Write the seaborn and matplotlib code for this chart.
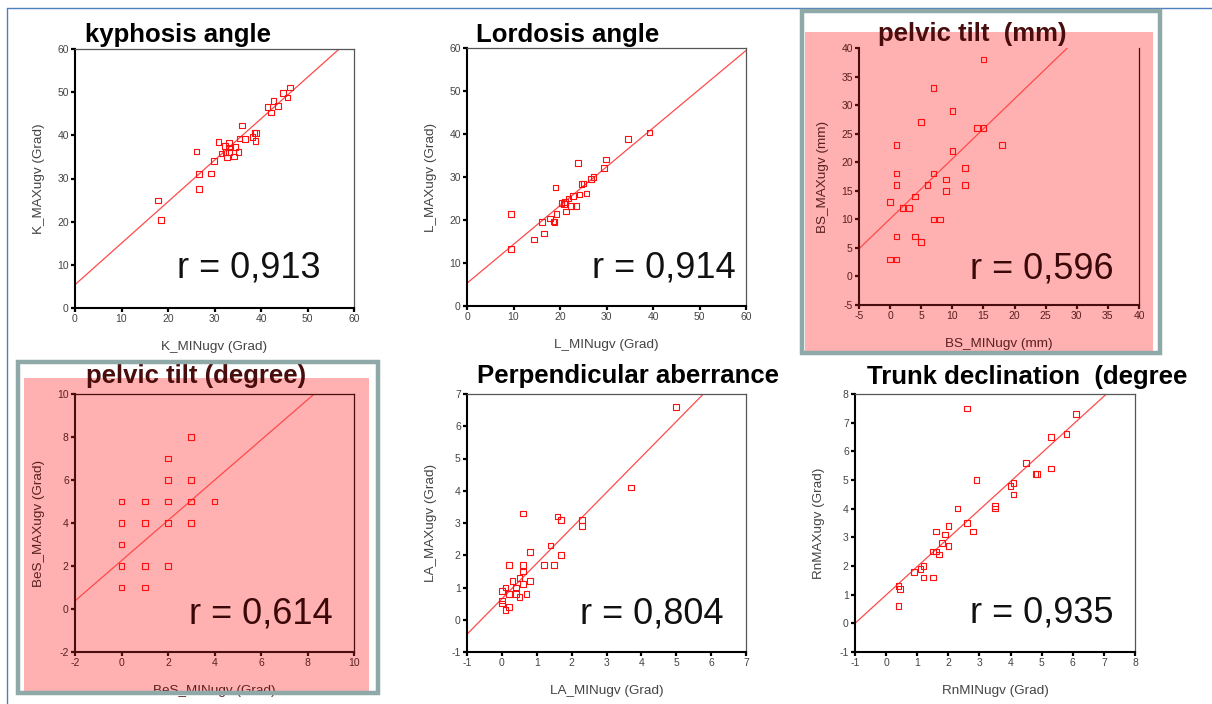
import matplotlib
matplotlib.use("Agg")
import numpy as np
import pandas as pd
import seaborn as sns
import matplotlib.pyplot as plt
from matplotlib.patches import Rectangle
from matplotlib.lines import Line2D

# ---------------- data ----------------
kyph_min = [17.8, 18.5, 26.1, 26.7, 26.7, 29.3, 29.9, 30.9, 31.5, 32.2, 32.4, 32.7, 33.1, 33.1,
            33.1, 34.2, 34.5, 35.2, 35.4, 35.9, 36.6, 38.2, 38.6, 38.8, 38.9, 41.4, 42.1, 42.7,
            43.7, 44.7, 45.7, 46.2]
kyph_max = [24.9, 20.4, 36.3, 31.1, 27.6, 31.2, 34.1, 38.5, 35.8, 37.5, 36.1, 34.9, 36.2, 38.2,
            37.2, 35.1, 37.3, 36.1, 39.3, 42.3, 39.2, 39.6, 40.6, 38.7, 40.6, 46.5, 45.3, 47.9,
            46.8, 49.8, 48.8, 51.1]

lord_min = [9.5, 9.5, 14.4, 16.1, 16.6, 17.8, 18.6, 18.8, 19.0, 19.2, 20.3, 20.9, 21.1, 21.3,
            21.8, 22.4, 22.8, 23.5, 23.9, 24.2, 24.6, 25.1, 25.7, 26.7, 27.2, 29.5, 29.9, 34.6, 39.2]
lord_max = [21.4, 13.3, 15.5, 19.5, 16.9, 20.3, 19.6, 19.5, 27.6, 21.4, 24.0, 23.7, 24.2, 22.0,
            25.0, 23.3, 25.6, 23.2, 33.3, 25.9, 28.4, 28.5, 26.2, 29.5, 30.0, 32.1, 34.1, 38.8, 40.3]

bs_min = [0, 0, 1, 1, 1, 1, 1, 2, 3, 4, 4, 5, 5, 6, 7, 7, 7, 8, 9, 9, 10, 10, 12, 12, 14, 15, 15, 18]
bs_max = [13, 3, 3, 23, 18, 16, 7, 12, 12, 14, 7, 27, 6, 16, 33, 18, 10, 10, 17, 15, 29, 22, 19, 16,
          26, 26, 38, 23]

bes_min = [0, 0, 0, 0, 0, 1, 1, 1, 1, 2, 2, 2, 2, 2, 3, 3, 3, 3, 4]
bes_max = [5, 4, 3, 2, 1, 5, 4, 2, 1, 7, 6, 5, 4, 2, 8, 6, 5, 4, 5]

la_min = [0.0, 0.0, 0.0, 0.1, 0.1, 0.2, 0.2, 0.2, 0.3, 0.4, 0.4, 0.5, 0.5, 0.6, 0.6, 0.6, 0.6,
          0.7, 0.8, 0.8, 1.2, 1.4, 1.5, 1.6, 1.7, 1.7, 2.3, 2.3, 3.7, 5.0]
la_max = [0.5, 0.6, 0.9, 1.0, 0.3, 0.8, 1.7, 0.4, 1.2, 1.0, 0.8, 1.3, 0.7, 1.7, 1.5, 1.1, 3.3,
          0.8, 1.2, 2.1, 1.7, 2.3, 1.7, 3.2, 3.1, 2.0, 3.1, 2.9, 4.1, 6.6]

rn_min = [0.4, 0.4, 0.45, 0.9, 1.1, 1.2, 1.2, 1.5, 1.5, 1.6, 1.6, 1.7, 1.8, 1.9, 2.0, 2.0, 2.3,
          2.6, 2.6, 2.8, 2.9, 3.5, 3.5, 4.0, 4.1, 4.1, 4.5, 4.8, 4.85, 5.3, 5.3, 5.8, 6.1]
rn_max = [0.6, 1.3, 1.2, 1.8, 1.9, 2.0, 1.6, 1.6, 2.5, 2.5, 3.2, 2.4, 2.8, 3.1, 2.7, 3.4, 4.0,
          7.5, 3.5, 3.2, 5.0, 4.1, 4.0, 4.8, 4.9, 4.5, 5.6, 5.2, 5.2, 6.5, 5.4, 6.6, 7.3]

# fitted lines (intercept, slope) as drawn in the picture
fit_lines = {"kyph": (5.4, 0.961), "lord": (5.3, 0.902), "bs": (10.1, 1.05),
             "bes": (2.25, 0.935), "la": (0.65, 1.099), "rn": (0.99, 0.99)}

titles = ["kyphosis angle", "Lordosis angle", "pelvic tilt  (mm)",
          "pelvic tilt (degree)", "Perpendicular aberrance", "Trunk declination  (degree"]
r_texts = ["r = 0,913", "r = 0,914", "r = 0,596", "r = 0,614", "r = 0,804", "r = 0,935"]
x_labels = ["K_MINugv (Grad)", "L_MINugv (Grad)", "BS_MINugv (mm)",
            "BeS_MINugv (Grad)", "LA_MINugv (Grad)", "RnMINugv (Grad)"]
y_labels = ["K_MAXugv (Grad)", "L_MAXugv (Grad)", "BS_MAXugv (mm)",
            "BeS_MAXugv (Grad)", "LA_MAXugv (Grad)", "RnMAXugv (Grad)"]
ticks_kyph = [0, 10, 20, 30, 40, 50, 60]
ticks_lord = [0, 10, 20, 30, 40, 50, 60]
ticks_bs = [-5, 0, 5, 10, 15, 20, 25, 30, 35, 40]
ticks_bes = [-2, 0, 2, 4, 6, 8, 10]
ticks_la = [-1, 0, 1, 2, 3, 4, 5, 6, 7]
ticks_rn = [-1, 0, 1, 2, 3, 4, 5, 6, 7, 8]

# ---------------- style ----------------
sns.set_style("white")
plt.rcParams["font.family"] = ["Liberation Sans", "DejaVu Sans"]

W, H = 1212, 704
fig = plt.figure(figsize=(W / 100, H / 100), dpi=100)
fig.patch.set_facecolor("white")

PINK = "#ffb0b0"
MAROON = "#4a0d0d"
FRAME = "#8fa8a8"
RED = "#ff1010"
LINE_RED = "#ff4a4a"


def fx(x):
    return x / W


def fy(y):
    return 1 - y / H


def rect_px(x0, y0, x1, y1, **kw):
    return Rectangle((fx(x0), fy(y1)), (x1 - x0) / W, (y1 - y0) / H,
                     transform=fig.transFigure, **kw)


# decorative page lines
fig.add_artist(Line2D([fx(7), fx(1212)], [fy(8), fy(8)], color="#4f7fc0", lw=1.0, zorder=-5))
fig.add_artist(Line2D([fx(7), fx(7)], [fy(8), fy(704)], color="#4f7fc0", lw=1.0, zorder=-5))

# pink highlighted panels
fig.add_artist(rect_px(805, 32, 1153, 352, facecolor=PINK, edgecolor="none", zorder=-3))
fig.add_artist(rect_px(24, 378, 369, 692, facecolor=PINK, edgecolor="none", zorder=-3))
fig.add_artist(rect_px(802, 11, 1160, 353, facecolor="none", edgecolor=FRAME, lw=3.2, zorder=10))
fig.add_artist(rect_px(18, 362, 378, 693, facecolor="none", edgecolor=FRAME, lw=3.2, zorder=10))

panels = [
    dict(x=kyph_min, y=kyph_max, fit="kyph", ticks=ticks_kyph, lim=(0, 60),
         box=(75, 49, 354, 308), pink=False, title_xy=(85, 42), r_xy=(0.366, 0.116), top=True),
    dict(x=lord_min, y=lord_max, fit="lord", ticks=ticks_lord, lim=(0, 60),
         box=(467, 48, 746, 306), pink=False, title_xy=(476, 42), r_xy=(0.448, 0.109), top=True),
    dict(x=bs_min, y=bs_max, fit="bs", ticks=ticks_bs, lim=(-5, 40),
         box=(859, 48, 1139, 305), pink=True, title_xy=(878, 41), r_xy=(0.396, 0.105), top=False),
    dict(x=bes_min, y=bes_max, fit="bes", ticks=ticks_bes, lim=(-2, 10),
         box=(75, 394, 354, 652), pink=True, title_xy=(86, 383), r_xy=(0.409, 0.112), top=True),
    dict(x=la_min, y=la_max, fit="la", ticks=ticks_la, lim=(-1, 7),
         box=(467, 394, 746, 652), pink=False, title_xy=(477, 383), r_xy=(0.405, 0.112), top=True),
    dict(x=rn_min, y=rn_max, fit="rn", ticks=ticks_rn, lim=(-1, 8),
         box=(855, 394, 1135, 652), pink=False, title_xy=(867, 384), r_xy=(0.41, 0.116), top=True),
]

for i, p in enumerate(panels):
    x0, y0, x1, y1 = p["box"]
    ax = fig.add_axes([fx(x0), fy(y1), (x1 - x0) / W, (y1 - y0) / H])
    ax.set_facecolor("none" if p["pink"] else "white")
    txt_col = MAROON if p["pink"] else "black"
    lab_col = "#5a2020" if p["pink"] else "#444444"
    df = pd.DataFrame({"xmin": p["x"], "xmax": p["y"]})
    sns.scatterplot(data=df, x="xmin", y="xmax", marker="s", s=16, ax=ax,
                    facecolor="none", edgecolor=RED, linewidth=0.8, zorder=3)
    coll = ax.collections[-1]
    coll.set_facecolor("none")
    coll.set_edgecolor(RED)
    b, m = fit_lines[p["fit"]]
    ax.axline((0, b), slope=m, color=LINE_RED, lw=0.9, zorder=2)
    ax.set_xlim(*p["lim"])
    ax.set_ylim(*p["lim"])
    ax.set_xticks(p["ticks"])
    ax.set_yticks(p["ticks"])
    ax.set_xticklabels([str(t) for t in p["ticks"]])
    ax.set_yticklabels([str(t) for t in p["ticks"]])
    ax.tick_params(direction="out", length=3, width=1.6, labelsize=7.5, pad=1.5,
                   colors=txt_col, labelcolor=lab_col, bottom=True, left=True)
    spine_col = MAROON if p["pink"] else "black"
    for s in ("left", "bottom"):
        ax.spines[s].set_color(spine_col)
        ax.spines[s].set_linewidth(1.5)
    for s in ("top", "right"):
        ax.spines[s].set_color(MAROON if p["pink"] else "#555555")
        ax.spines[s].set_linewidth(0.9)
    ax.spines["top"].set_visible(p["top"])
    ax.set_xlabel(x_labels[i], fontsize=9.7, color=lab_col)
    ax.set_ylabel(y_labels[i], fontsize=9.7, color=lab_col)
    ax.xaxis.label.set_va("center")
    ax.yaxis.label.set_va("center")
    hgt = y1 - y0
    wid = x1 - x0
    ax.xaxis.set_label_coords(0.5, -39 / hgt)
    ax.yaxis.set_label_coords(-36 / wid, 0.5)
    ax.text(p["r_xy"][0], p["r_xy"][1], r_texts[i], transform=ax.transAxes,
            fontsize=26, va="baseline", ha="left", color="#111111" if not p["pink"] else "#3a0808")
    tx, ty = p["title_xy"]
    fig.text(fx(tx), fy(ty), titles[i], fontsize=18.5, fontweight="bold", va="baseline",
             ha="left", color=txt_col if p["pink"] else "black")

fig.savefig("out.png", dpi=100, facecolor="white")
